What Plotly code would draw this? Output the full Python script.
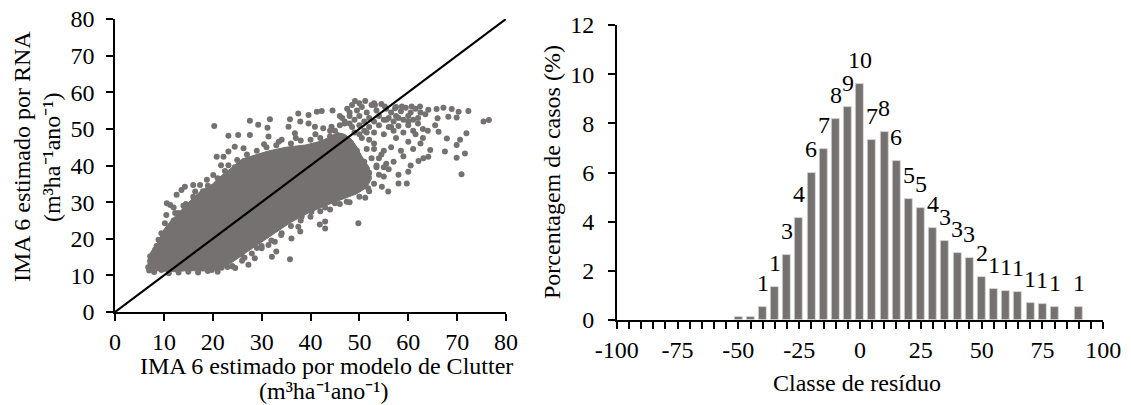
import plotly.graph_objects as go

# ---------------- Data: left panel (scatter) ----------------
# dense core of the point cloud (outline)
core_x = [6.8, 9, 12, 15, 18, 21.5, 24, 27, 30, 33, 36, 39.5, 43, 46.5, 49.5, 51.5, 52.5, 52,
          50.5, 49.5, 48.5, 47, 45.5, 44, 42, 39, 35, 31.5, 28.5, 26, 24, 22, 20, 17.5, 15.5,
          13.5, 11.5, 10, 8.8, 7.3, 6.6]
core_y = [11.4, 11.2, 11.0, 11.3, 11.2, 11.6, 13.6, 16.4, 19.2, 21.8, 24.5, 27.0, 29.0, 30.8, 32.3, 34.0,
          36.5, 39.5, 42.5, 45.0, 47.0, 48.5, 49.0, 47.8, 46.6, 45.6, 45.0, 44.0, 42.8, 41.8, 39.5, 37.5,
          35.0, 33.0, 30.5, 27.8, 25.0, 22.5, 19.2, 16.3, 13.8]

# individual points around the core
pts_x = [20.3, 23.2, 25.2, 27.6, 27.6, 29.3, 31.7, 31.2, 31.4, 35.5, 35.8, 37.5, 39.6, 41.3, 42.3,
         37.9, 39.6, 40.9, 42.6, 44.3, 36.8, 34.1, 24.5, 26.3, 23.2, 22.2, 20.8, 21.7, 23.2, 20.1,
         18.8, 17.4, 16.0, 14.3, 13.6, 16.4, 12.6, 10.6, 11.3, 12.3, 10.2, 8.9, 8.2,
         49.1, 51.2, 53.2, 55.2, 57.3, 58.7, 60.7, 62.4, 64.1, 65.8, 67.2, 68.9, 70.3, 72.3, 68.2,
         69.9, 66.0, 75.4, 76.5, 66.2, 71.9, 67.9, 69.9, 70.6, 64.5, 67.5, 69.9, 71.6, 63.1, 62.1,
         64.1, 70.9, 60.0, 59.7, 58.0, 55.9, 54.6, 51.8, 51.2, 47.4, 45.0, 43.0, 41.3, 40.2, 43.0,
         43.0, 41.9, 49.8, 38.2, 37.5, 37.9, 36.1, 34.1, 32.7, 31.4, 30.0, 32.1, 28.6, 25.9, 35.8,
         27.3, 24.6, 21.8, 19.8,
         7.0, 8.0, 9.5, 11.0, 13.0, 15.0, 17.0, 19.0, 21.0, 23.0, 7.5, 6.8, 8.0, 7.2, 9.0, 8.5,
         10.0, 9.5, 11.0, 12.0, 13.0, 12.0, 14.5, 16.0, 18.0, 19.0, 21.0, 22.5, 24.5, 25.0, 27.0,
         29.0, 31.0, 33.0, 36.0, 38.0, 40.0, 42.0, 44.0, 45.0, 46.0, 47.0, 48.0,
         55.0, 55.0, 54.0, 53.0, 52.0, 51.5, 52.0, 50.0, 48.0, 46.0, 44.0, 42.0, 40.0, 38.0, 36.0,
         34.0, 32.0, 30.0, 28.0, 26.0, 24.0,
         56.5, 57.5, 58.5, 60.0, 61.5, 57.0, 59.0, 56.0, 58.0, 60.5, 62.5, 56.5, 55.5, 57.5, 60.0,
         53.5, 55.0, 46.0, 48.0, 44.5, 50.0, 53.0, 64.0, 65.5, 63.0, 61.0, 47.5, 45.5, 39.0, 42.5,
         47.5, 48.5, 49.5, 50.5, 51.5, 52.5, 53.5, 54.5, 55.5, 56.5, 57.5, 58.5, 59.5, 60.5, 61.5,
         62.5, 63.5, 48.0, 49.0, 50.0, 51.0, 52.0, 53.0, 54.0, 55.0, 56.0, 57.0, 58.0, 59.0, 60.0,
         61.0, 62.0, 48.5, 50.0, 52.0, 54.0, 56.0, 58.0, 60.0, 62.0, 47.0, 46.5, 49.0, 51.0, 53.0,
         55.0, 57.0, 59.0, 61.0, 63.0,
         18.5, 20.5, 22.5, 24.0, 26.5, 29.0, 33.5, 37.0, 14.0, 10.5, 41.0, 44.0, 49.0, 33.0, 30.5,
         53.0, 54.0, 53.5, 52.5, 51.5, 53.0, 50.5, 54.5, 55.5, 52.0, 49.5, 51.0, 48.0, 50.0]
pts_y = [50.8, 48.1, 48.3, 52.2, 48.3, 51.1, 52.6, 50.3, 47.9, 50.6, 52.6, 54.2, 53.8, 54.7, 54.9,
         52.0, 51.5, 50.6, 50.2, 50.6, 48.8, 47.0, 45.1, 44.7, 43.8, 42.4, 42.4, 40.1, 40.1, 37.4,
         36.1, 34.7, 34.7, 34.2, 33.3, 32.9, 32.0, 29.7, 29.2, 27.0, 24.2, 19.7, 17.0,
         57.6, 57.6, 56.5, 56.1, 55.6, 56.1, 56.1, 56.1, 55.2, 55.4, 55.8, 55.4, 54.7, 54.9, 53.3,
         53.1, 52.9, 52.0, 52.4, 49.2, 48.8, 47.4, 45.6, 47.0, 44.2, 43.8, 42.1, 43.3, 42.0, 41.2,
         42.4, 37.6, 38.3, 35.1, 35.1, 32.9, 34.2, 33.8, 31.2, 30.1, 29.7, 28.5, 29.7, 27.4, 24.7,
         22.8, 23.9, 24.2, 26.1, 23.3, 22.0, 20.1, 21.5, 19.2, 18.3, 17.4, 15.1, 14.7, 15.6, 14.4,
         12.9, 12.0, 12.1, 11.5,
         11.3, 10.9, 11.5, 10.6, 10.8, 11.0, 10.8, 11.2, 11.0, 12.3, 13.0, 12.2, 14.5, 15.2, 16.0,
         18.0, 20.2, 21.5, 23.0, 25.0, 27.0, 28.5, 29.5, 31.5, 33.0, 34.5, 36.5, 38.5, 39.5, 41.5,
         43.0, 44.0, 45.0, 45.5, 46.0, 46.8, 47.0, 47.5, 48.0, 49.5, 51.0, 52.0, 51.5,
         37.0, 39.5, 42.0, 44.5, 47.0, 49.0, 33.0, 31.5, 30.0, 29.5, 28.0, 27.5, 26.0, 25.0, 23.5,
         21.0, 19.5, 18.0, 16.0, 14.0, 12.5,
         45.0, 47.5, 44.0, 46.5, 48.5, 41.0, 42.5, 39.0, 37.5, 40.0, 46.0, 50.5, 52.5, 53.5, 52.0,
         39.5, 44.0, 53.5, 54.5, 55.0, 57.0, 57.0, 49.5, 51.0, 47.5, 44.5, 32.5, 31.5, 28.0, 31.0,
         55.5, 56.5, 55.0, 56.0, 54.5, 56.5, 55.0, 56.8, 55.5, 54.5, 56.0, 54.8, 55.8, 54.5, 55.5,
         54.5, 54.0, 53.5, 52.5, 53.5, 52.0, 53.0, 52.0, 53.5, 52.5, 53.0, 52.0, 53.0, 52.5, 53.5,
         52.5, 53.0, 50.5, 51.0, 50.5, 51.0, 50.5, 50.8, 51.0, 51.5, 51.5, 53.0, 49.0, 49.5, 49.0,
         48.5, 49.5, 49.0, 49.5, 50.0,
         12.0, 12.6, 14.0, 12.5, 14.8, 17.5, 46.5, 47.5, 29.0, 26.5, 48.5, 49.5, 36.0, 16.5, 45.8,
         35.0, 37.5, 40.0, 42.0, 44.5, 46.0, 47.5, 43.0, 40.5, 38.0, 44.0, 41.0, 46.0, 48.5]

line_x = [0, 80]
line_y = [0, 80]

# ---------------- Data: right panel (histogram) ----------------
classes = [-50, -45, -40, -35, -30, -25, -20, -15, -10, -5, 0, 5, 10, 15, 20, 25, 30, 35, 40, 45,
           50, 55, 60, 65, 70, 75, 80, 90]
percent = [0.14, 0.14, 0.52, 1.33, 2.65, 4.15, 6.0, 6.97, 8.18, 8.67, 9.6, 7.33, 7.65, 6.48, 4.93,
           4.57, 3.76, 3.21, 2.72, 2.52, 1.74, 1.28, 1.18, 1.12, 0.69, 0.64, 0.53, 0.52]
bar_labels = ["", "", "1", "1", "3", "4", "6", "7", "8", "9", "10", "7", "8", "6", "5", "5", "4",
              "3", "3", "3", "2", "1", "1", "1", "1", "1", "1", "1"]
x_tickvals = [-100, -75, -50, -25, 0, 25, 50, 75, 100]
x_ticktext = ["-100", "-75", "-50", "-25", "0", "25", "50", "75", "100"]

GRAY = "#767171"
FONT = "Liberation Serif, Times New Roman, serif"
FS = 24
W, H = 1131, 405

fig = go.Figure()

fig.add_trace(go.Scatter(x=core_x, y=core_y, fill="toself", fillcolor=GRAY, mode="lines",
                         line=dict(color=GRAY, width=1), hoverinfo="skip", showlegend=False,
                         xaxis="x", yaxis="y"))
fig.add_trace(go.Scatter(x=pts_x, y=pts_y, mode="markers",
                         marker=dict(color=GRAY, size=6, line=dict(width=0)),
                         showlegend=False, xaxis="x", yaxis="y"))
fig.add_trace(go.Scatter(x=line_x, y=line_y, mode="lines", line=dict(color="black", width=2.2),
                         showlegend=False, xaxis="x", yaxis="y"))

fig.add_trace(go.Bar(x=classes, y=percent, width=3.3,
                     marker=dict(color=GRAY, line=dict(color="#d9d9d9", width=0.8)),
                     showlegend=False, xaxis="x2", yaxis="y2"))

tfont = dict(family=FONT, size=FS, color="black")
annotations = []
for cx, val, lab in zip(classes, percent, bar_labels):
    if lab:
        annotations.append(dict(x=cx, y=val, xref="x2", yref="y2", text=lab, showarrow=False,
                                yshift=24, font=tfont))


def pa(x, y, text, angle=0):
    return dict(x=x / W, y=1 - y / H, xref="paper", yref="paper", text=text, showarrow=False,
                textangle=angle, font=tfont, xanchor="center", yanchor="middle")


annotations += [
    pa(326, 366, "IMA 6 estimado por modelo de Clutter"),
    pa(324, 391, "(m³ha⁻¹ano⁻¹)"),
    pa(22, 157, "IMA 6 estimado por RNA", -90),
    pa(52, 157, "(m³ha⁻¹ano⁻¹)", -90),
    pa(552, 172, "Porcentagem de casos (%)", -90),
    pa(857, 383, "Classe de resíduo"),
]

axis_common = dict(showline=True, linecolor="black", linewidth=1.5, ticks="outside", ticklen=7,
                   tickwidth=1.5, tickcolor="black", showgrid=False, zeroline=False,
                   automargin=False, tickfont=tfont)

fig.update_layout(
    width=W, height=H, margin=dict(l=0, r=0, t=0, b=0, autoexpand=False),
    paper_bgcolor="white", plot_bgcolor="white", bargap=0,
    xaxis=dict(domain=[115 / W, 506 / W], range=[0, 80], dtick=10, anchor="y",
               ticklabelstandoff=0, **axis_common),
    yaxis=dict(domain=[1 - 312 / H, 1 - 19 / H], range=[0, 80], dtick=10, anchor="x",
               ticklabelstandoff=7, **axis_common),
    xaxis2=dict(domain=[616.7 / W, 1103.3 / W], range=[-100, 100], tickvals=x_tickvals,
                ticktext=x_ticktext, anchor="y2", ticklabelstandoff=0,
                minor=dict(dtick=5, tick0=0, ticks="outside", ticklen=7, tickwidth=1.5, tickcolor="black"),
                **axis_common),
    yaxis2=dict(domain=[1 - 320 / H, 1 - 25 / H], range=[0, 12], dtick=2, anchor="x2",
                ticklabelstandoff=9, **axis_common),
    annotations=annotations,
)

fig.write_html("out.html")
